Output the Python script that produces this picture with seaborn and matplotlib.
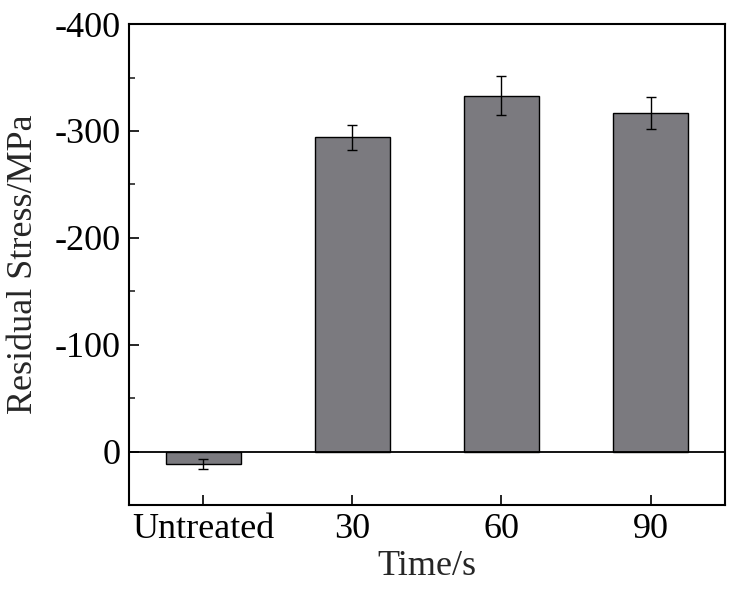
import numpy as np
import seaborn as sns
import matplotlib.pyplot as plt
from matplotlib.ticker import MultipleLocator

# datos
categorias = ['Untreated', '30', '60', '90']
esfuerzo = [12, -294, -333, -317]   # MPa
error = [4.6, 12, 18.5, 15]

sns.set_style('ticks')
plt.rcParams['font.family'] = ['Liberation Serif', 'DejaVu Serif']
plt.rcParams['axes.unicode_minus'] = False  # guion simple como en el original

fig = plt.figure(figsize=(7.49, 6.11), dpi=100)
ax = fig.add_axes([0.172, 0.1735, 0.796, 0.787])

sns.barplot(x=categorias, y=esfuerzo, color='#7b7a7f', saturation=1,
            edgecolor='black', linewidth=1.0, width=0.5, errorbar=None, ax=ax)
ax.errorbar(np.arange(len(categorias)), esfuerzo, yerr=error, fmt='none',
            ecolor='black', elinewidth=1.0, capsize=3.5, capthick=1.0)

ax.axhline(0, color='black', linewidth=1.3)
ax.set_xlim(-0.5, 3.5)
ax.set_ylim(50, -400)  # eje invertido
ax.yaxis.set_minor_locator(MultipleLocator(50))
ax.set_yticks([-400, -300, -200, -100, 0])

ax.tick_params(axis='both', which='major', direction='in', length=7, width=1.2,
               labelsize=26, colors='black', pad=6)
ax.tick_params(axis='y', which='minor', direction='in', length=4, width=1.2)
ax.tick_params(top=False, right=False)
for s in ax.spines.values():
    s.set_linewidth(1.5)
    s.set_color('black')

ax.set_xlabel('Time/s', fontsize=26, labelpad=3)
ax.set_ylabel('Residual Stress/MPa', fontsize=26, labelpad=10)

fig.savefig('out.png', dpi=100)
